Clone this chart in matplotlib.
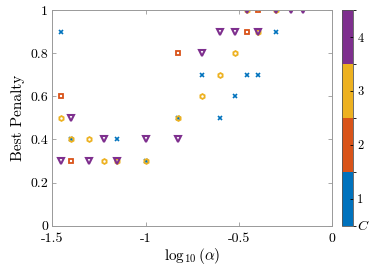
import numpy as np
import matplotlib
matplotlib.use("Agg")
import matplotlib.pyplot as plt
from matplotlib.colors import ListedColormap, BoundaryNorm
import matplotlib.colorbar as mcolorbar

plt.rcParams["font.family"] = "serif"
plt.rcParams["font.serif"] = ["cmr10", "DejaVu Serif"]
plt.rcParams["mathtext.fontset"] = "cm"
plt.rcParams["axes.unicode_minus"] = False

# alpha values (x axis shows log10 of these), best penalty per cluster count C
alpha_c1 = [0.035, 0.04, 0.07, 0.1, 0.15, 0.2, 0.25, 0.3, 0.35, 0.4, 0.5]
pen_c1 = [0.9, 0.4, 0.4, 0.3, 0.5, 0.7, 0.5, 0.6, 0.7, 0.7, 0.9]

alpha_c2 = [0.035, 0.04, 0.15, 0.35, 0.4]
pen_c2 = [0.6, 0.3, 0.8, 0.9, 1.0]

alpha_c3 = [0.035, 0.04, 0.05, 0.06, 0.07, 0.1, 0.15, 0.2, 0.25, 0.3, 0.35, 0.4, 0.5]
pen_c3 = [0.5, 0.4, 0.4, 0.3, 0.3, 0.3, 0.5, 0.6, 0.7, 0.8, 1.0, 0.9, 1.0]

alpha_c4 = [0.035, 0.04, 0.05, 0.06, 0.07, 0.1, 0.15, 0.2, 0.25, 0.3, 0.35, 0.4, 0.5, 0.6, 0.7]
pen_c4 = [0.3, 0.5, 0.3, 0.4, 0.3, 0.4, 0.4, 0.8, 0.9, 0.9, 1.0, 0.9, 1.0, 1.0, 1.0]

colors = ["#0072BD", "#D95319", "#EDB120", "#7E2F8E"]
c_ticks = [1, 2, 3, 4]

fig = plt.figure(figsize=(3.74, 2.70), dpi=100)
ax = fig.add_axes([0.140, 0.164, 0.748, 0.799])

ax.plot(np.log10(alpha_c1), pen_c1, "x", color=colors[0], ms=3, mew=1.2)
ax.plot(np.log10(alpha_c2), pen_c2, "s", color=colors[1], mfc="none", ms=3, mew=1.3)
ax.plot(np.log10(alpha_c3), pen_c3, "h", color=colors[2], mfc="none", ms=3.5, mew=1.3)
ax.plot(np.log10(alpha_c4), pen_c4, "v", color=colors[3], mfc="none", ms=4.2, mew=1.5)

ax.set_xlim(-1.5, 0)
ax.set_ylim(0, 1)
ax.set_xticks([-1.5, -1, -0.5, 0])
ax.set_xticklabels(["-1.5", "-1", "-0.5", "0"])
ax.set_yticks([0, 0.2, 0.4, 0.6, 0.8, 1])
ax.set_yticklabels(["0", "0.2", "0.4", "0.6", "0.8", "1"])
ax.tick_params(direction="in", top=True, right=True, length=3, width=0.6,
               color="#999999", labelsize=10, pad=3)
ax.tick_params(axis="x", pad=5)
for s in ax.spines.values():
    s.set_color("#999999")
    s.set_linewidth(0.7)
ax.set_xlabel(r"$\log_{10}(\alpha)$", fontsize=11, labelpad=1)
ax.set_ylabel("Best Penalty", fontsize=11, labelpad=4)

# discrete colorbar for C
cax = fig.add_axes([0.915, 0.164, 0.0294, 0.799])
cmap = ListedColormap(colors)
norm = BoundaryNorm([0.5, 1.5, 2.5, 3.5, 4.5], cmap.N)
cb = mcolorbar.ColorbarBase(cax, cmap=cmap, norm=norm, ticks=c_ticks)
cb.outline.set_color("#555555")
cb.outline.set_linewidth(0.6)
cax.tick_params(direction="in", length=2, width=0.6, labelsize=9, pad=3)
cax.text(1.35, 0.0, r"$C$", transform=cax.transAxes, fontsize=10,
         va="center", ha="left")

fig.savefig("out.png", dpi=100)
